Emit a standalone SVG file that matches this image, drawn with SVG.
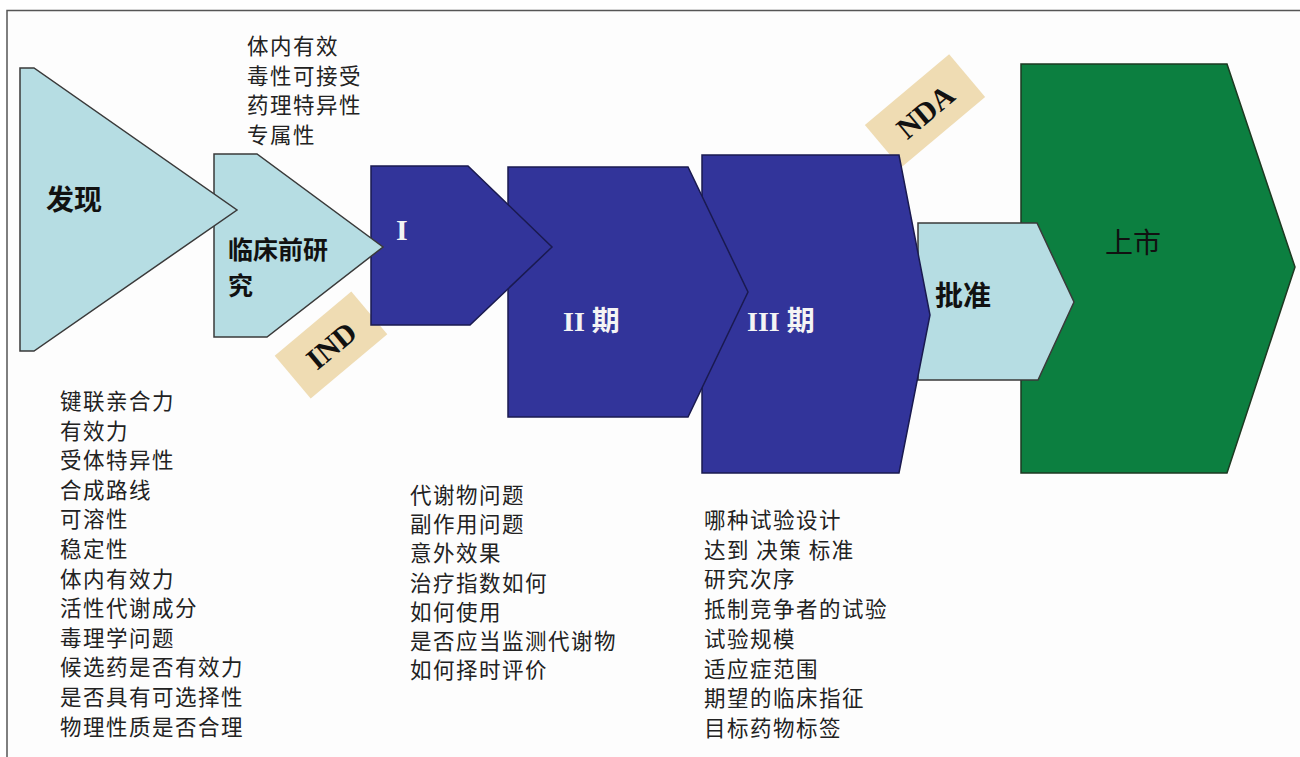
<svg xmlns="http://www.w3.org/2000/svg" width="1300" height="757" viewBox="0 0 1300 757">
<style>
.lb{fill:#b6dde3;stroke:#3a3a3a;stroke-width:1.5;stroke-linejoin:miter}
.db{fill:#32349a;stroke:#1a1a50;stroke-width:1.5}
.gr{fill:#0c7f40;stroke:#1d3a22;stroke-width:1.5}
.tag{fill:#efdcb3}
.lst{font-family:"Noto Sans CJK SC","Liberation Sans",sans-serif;font-size:21.5px;fill:#222;letter-spacing:1.5px}
.bk{font-family:"Liberation Serif","Noto Sans CJK SC",serif;font-weight:bold;fill:#111}
.wt{font-family:"Liberation Serif","Noto Sans CJK SC",serif;font-weight:bold;fill:#f4f4f4}
</style>
<rect width="1300" height="757" fill="#ffffff"/>
<rect x="7" y="10.5" width="1300" height="760" fill="#fdfdfd" stroke="#555" stroke-width="1.5"/>
<g id="tag-ind">
<rect class="tag" x="281" y="317" width="100" height="56" transform="rotate(-40 331 345)"/>
<text class="bk" x="331" y="356" font-size="30" text-anchor="middle" transform="rotate(-40 331 345)">IND</text>
</g>
<g id="tag-nda">
<rect class="tag" x="870" y="83" width="110" height="56" transform="rotate(-40 925 111)"/>
<text class="bk" x="925" y="122" font-size="30" text-anchor="middle" transform="rotate(-40 925 111)">NDA</text>
</g>
<g id="market">
<polygon class="gr" points="1021,64 1227,64 1295,267 1227,473 1021,473"/>
<text x="1133" y="253" font-family="'Noto Sans CJK SC',sans-serif" font-size="28" fill="#111" text-anchor="middle">上市</text>
</g>
<g id="approval">
<polygon class="lb" points="918,223 1037,223 1074,302 1038,380 918,380"/>
<text class="bk" x="935" y="306" font-size="28">批准</text>
</g>
<g id="phase3">
<polygon class="db" points="702,155 899,155 930,315 899,473 702,473"/>
<text class="wt" x="747" y="331" font-size="28">III 期</text>
</g>
<g id="phase2">
<polygon class="db" points="508,167 688,167 748,292 688,417 508,417"/>
<text class="wt" x="563" y="331" font-size="28">II 期</text>
</g>
<g id="phase1">
<polygon class="db" points="371,166 468,166 552,247 470,325 371,325"/>
<text class="wt" x="396" y="240" font-size="30">I</text>
</g>
<g id="preclinical">
<polygon class="lb" points="214,154 257,154 383,247 267,337 214,337"/>
<text class="bk" x="228" y="259" font-size="25">临床前研</text>
<text class="bk" x="228" y="295" font-size="25">究</text>
</g>
<g id="discovery">
<polygon class="lb" points="20,68 34,68 237,210 34,351 20,351"/>
<text class="bk" x="46" y="210" font-size="28">发现</text>
</g>
<g id="connectors"></g>
<g id="notes-preclinical" class="lst">
<text x="247" y="54">体内有效</text>
<text x="247" y="83.5">毒性可接受</text>
<text x="247" y="113">药理特异性</text>
<text x="247" y="142.5">专属性</text>
</g>
<g id="notes-discovery" class="lst">
<text x="60" y="409">键联亲合力</text>
<text x="60" y="438.6">有效力</text>
<text x="60" y="468.2">受体特异性</text>
<text x="60" y="497.8">合成路线</text>
<text x="60" y="527.4">可溶性</text>
<text x="60" y="557">稳定性</text>
<text x="60" y="586.6">体内有效力</text>
<text x="60" y="616.2">活性代谢成分</text>
<text x="60" y="645.8">毒理学问题</text>
<text x="60" y="675.4">候选药是否有效力</text>
<text x="60" y="705">是否具有可选择性</text>
<text x="60" y="734.6">物理性质是否合理</text>
</g>
<g id="notes-phase2" class="lst">
<text x="410" y="503">代谢物问题</text>
<text x="410" y="532.2">副作用问题</text>
<text x="410" y="561.4">意外效果</text>
<text x="410" y="590.6">治疗指数如何</text>
<text x="410" y="619.8">如何使用</text>
<text x="410" y="649">是否应当监测代谢物</text>
<text x="410" y="678.2">如何择时评价</text>
</g>
<g id="notes-phase3" class="lst">
<text x="704" y="528">哪种试验设计</text>
<text x="704" y="557.7">达到 决策 标准</text>
<text x="704" y="587.4">研究次序</text>
<text x="704" y="617.1">抵制竞争者的试验</text>
<text x="704" y="646.8">试验规模</text>
<text x="704" y="676.5">适应症范围</text>
<text x="704" y="706.2">期望的临床指征</text>
<text x="704" y="735.9">目标药物标签</text>
</g>
</svg>
